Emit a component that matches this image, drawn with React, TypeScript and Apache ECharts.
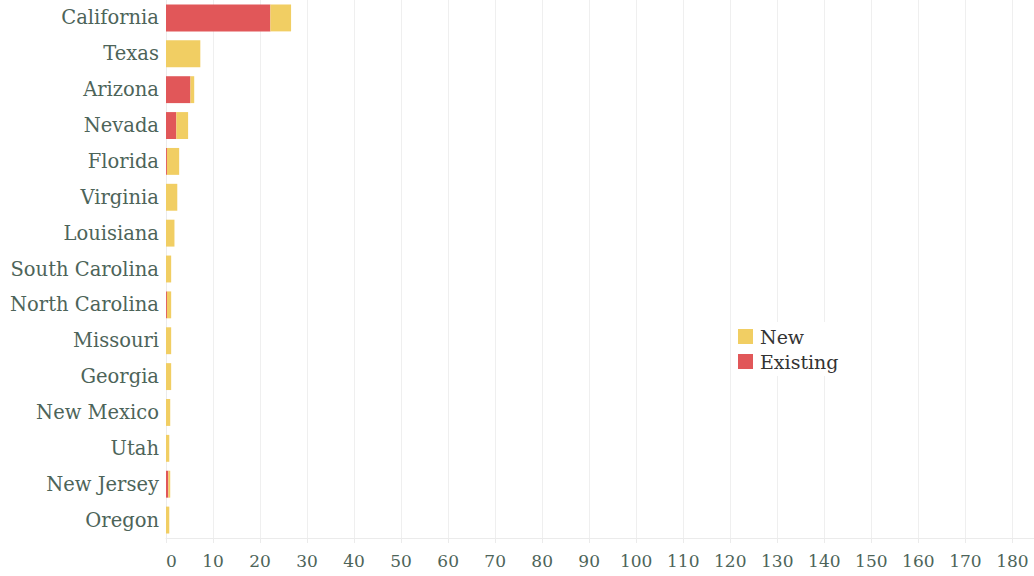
import React, { useEffect, useRef } from "react";
import * as echarts from "echarts";

const states = [
  "California", "Texas", "Arizona", "Nevada", "Florida", "Virginia", "Louisiana",
  "South Carolina", "North Carolina", "Missouri", "Georgia", "New Mexico", "Utah",
  "New Jersey", "Oregon",
];
const existingValues = [22.2, 0, 5.2, 2.2, 0.2, 0, 0, 0, 0.2, 0, 0, 0, 0, 0.5, 0];
const newValues = [4.4, 7.3, 0.8, 2.5, 2.6, 2.4, 1.8, 1.1, 0.9, 1.1, 1.1, 0.9, 0.7, 0.4, 0.7];

const FONT = "DejaVu Serif";
const TEXT = "#4d6459";

export default function App() {
  const ref = useRef<HTMLDivElement>(null);
  useEffect(() => {
    if (!ref.current) return;
    const chart = echarts.init(ref.current, undefined, { renderer: "svg" });
    chart.setOption({
      animation: false,
      textStyle: { fontFamily: FONT },
      grid: { left: 166, right: 0, top: 0, bottom: 38, containLabel: false },
      legend: {
        orient: "vertical",
        left: 733,
        top: 322,
        itemWidth: 15,
        itemHeight: 15,
        itemGap: 6,
        icon: "rect",
        backgroundColor: "#ffffff",
        padding: [5, 5, 5, 5],
        textStyle: { fontFamily: FONT, fontSize: 19, color: "#333333", padding: [0, 0, 0, 2] },
        data: ["New", "Existing"],
      },
      xAxis: {
        type: "value",
        min: 0,
        max: 184.6,
        interval: 10,
        axisLine: { show: true, lineStyle: { color: "#ebebeb" } },
        axisTick: { show: true, length: 5, lineStyle: { color: "#ebebeb" } },
        splitLine: { show: true, lineStyle: { color: "#efefef", width: 1 } },
        axisLabel: {
          color: TEXT,
          fontFamily: FONT,
          fontSize: 17,
          margin: 14,
          showMaxLabel: false,
          alignMinLabel: "left",
        },
      },
      yAxis: {
        type: "category",
        data: states,
        inverse: true,
        axisLine: { show: true, lineStyle: { color: "#ebebeb" } },
        axisTick: { show: false },
        axisLabel: { color: TEXT, fontFamily: FONT, fontSize: 19.5, margin: 7, padding: [4, 0, 0, 0] },
      },
      series: [
        {
          name: "Existing",
          type: "bar",
          stack: "total",
          data: existingValues,
          barCategoryGap: "25%",
          itemStyle: { color: "#e15759" },
        },
        {
          name: "New",
          type: "bar",
          stack: "total",
          data: newValues,
          barCategoryGap: "25%",
          itemStyle: { color: "#f1ce63" },
        },
      ],
    });
    return () => chart.dispose();
  }, []);
  return <div ref={ref} style={{ width: 1034, height: 576, position: "absolute", left: 0, top: 0 }} />;
}
